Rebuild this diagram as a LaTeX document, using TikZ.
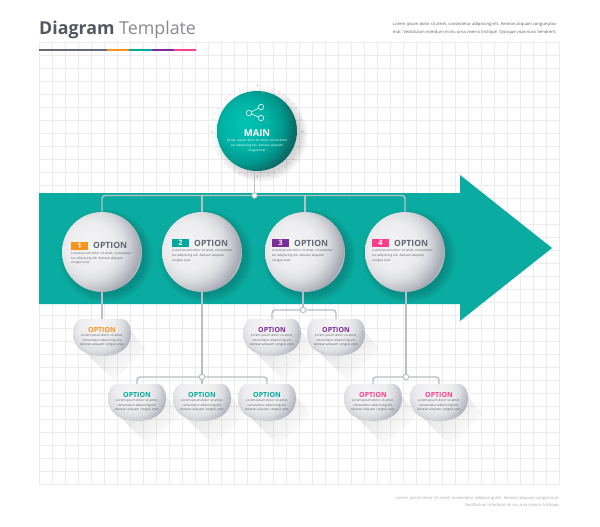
\documentclass[tikz,border=0pt]{standalone}
\usepackage{fontspec}
\setmainfont{Open Sans}
\usetikzlibrary{fadings}

\definecolor{optorange}{HTML}{F7941E}
\definecolor{optteal}{HTML}{00A99D}
\definecolor{optpurple}{HTML}{7B2D9B}
\definecolor{optpink}{HTML}{FF3D8B}
\definecolor{titlegray}{HTML}{55575F}
\definecolor{optiongray}{HTML}{656773}
\definecolor{bargray}{HTML}{666A78}
\definecolor{linegray}{HTML}{B9BFC5}
\definecolor{gridgray}{HTML}{ECECEF}
\definecolor{textgray}{HTML}{5A5B64}
\definecolor{ballA}{HTML}{F5F5F6}
\definecolor{ballB}{HTML}{EDEDEF}
\definecolor{ballC}{HTML}{DCDDE1}
\definecolor{ballD}{HTML}{C0C2C9}
\definecolor{ballE}{HTML}{A4A7B1}
\definecolor{ballF}{HTML}{DADBDF}
\definecolor{mainA}{HTML}{00C4B4}
\definecolor{mainB}{HTML}{00B3A5}
\definecolor{mainC}{HTML}{00968C}
\definecolor{mainD}{HTML}{0B6B66}
\definecolor{mainE}{HTML}{1AA398}

\pgfdeclareradialshading{whiteball}{\pgfpointorigin}{
    color(0bp)=(ballA); color(11bp)=(ballB); color(16bp)=(ballC);
    color(20bp)=(ballD); color(23.5bp)=(ballE); color(25bp)=(ballF); color(50bp)=(ballF)}
\pgfdeclareradialshading{tealball}{\pgfpointorigin}{
    color(0bp)=(mainA); color(11bp)=(mainB); color(18bp)=(mainC);
    color(23bp)=(mainD); color(24.2bp)=(mainD); color(25bp)=(mainE); color(50bp)=(mainE)}

\tikzfading[name=longfade, left color=transparent!72, middle color=transparent!92, right color=transparent!100]

\tikzset{
    ballnode/.style={circle, minimum size=80pt, inner sep=0pt, path picture={
        \shade[shading=#1] ([xshift=-12pt,yshift=6pt]path picture bounding box.center) circle (54pt);}},
    joint/.style={circle, draw=linegray, line width=1pt, fill=white, minimum size=5.5pt, inner sep=0pt},
    link/.style={draw=linegray, line width=1.4pt, rounded corners=3pt},
    lorem/.style={font=\fontsize{3.2}{4.9}\selectfont, text=textgray, inner sep=0pt},
    pill/.pic={
        \fill[gray, path fading=longfade, fading angle=-45] (-25,6) -- (12,43) -- (44,11) -- (20,-17) -- cycle;
        \begin{scope}
            \clip (-21,-19) -- (21,-19) .. controls (26,-18) and (29,-12) .. (29,-5)
                .. controls (29,10) and (17,18) .. (0,18) .. controls (-17,18) and (-29,10) .. (-29,-5)
                .. controls (-29,-12) and (-26,-18) .. (-21,-19) -- cycle;
            \shade[shading=whiteball] (-5,-12) circle (40pt);
        \end{scope}
        \coordinate (-top) at (0,-19);
    }
}

\begin{document}
\begin{tikzpicture}[x=1pt, y=-1pt]
    \useasboundingbox (0,0) rectangle (600,527);

    % Grid
    \draw[gridgray, line width=0.45pt, xstep=13pt, ystep=13pt, shift={(39pt,-42pt)}] (0,0) grid (520,442);

    % Title and color bar
    \node[anchor=west, inner sep=0pt, text=titlegray, font=\fontsize{17.8}{17.8}\selectfont] (title) at (39,29.5)
        {\textbf{Diagram} \textcolor{titlegray!70}{Template}};
    \foreach \xa/\xb/\col in {39/107/bargray, 107/129/optorange, 129/152/optteal, 152/174/optpurple, 174/196/optpink} {
        \fill[\col] (\xa,49) rectangle (\xb,51);
    }
    \node[lorem, anchor=north west, align=left, font=\fontsize{4.12}{8}\selectfont] (headtext) at (393,22)
        {Lorem ipsum dolor sit amet, consectetur adipiscing elit. Aenean aliquam congue plac-\\
         erat. Vestibulum interdum mi eu urna viverra tristique. Quisque vitae nunc hendrerit.};

    % Big arrow
    \fill[optteal, fill opacity=0.96] (39,193) -- (460,193) -- (460,175) -- (552,248)
        -- (460,321) -- (460,304) -- (39,304) -- cycle;

    % Ticks around main
    \foreach \a in {0,7.5,...,352} {
        \draw[gray!40, line width=0.3pt] (257,131) ++(\a:44) -- ++(\a:2.5);
    }

    % Shadows under the balls
    \foreach \x/\y in {257/131, 102/252, 202/252, 305/252, 405/252} {
        \foreach \s in {1,...,9} {
            \fill[black, opacity=0.02] (\x+4,\y+4) circle ({37+\s*1.1});
        }
    }

    % Main
    \node[ballnode=tealball] (main) at (257,131) {};
    \draw[white, line width=0.6pt] (249,113) -- (261,107) (249,113) -- (261,118);
    \foreach \n/\x/\y in {icona/249/113, iconb/261/107, iconc/261/118} {
        \node[circle, draw=white, line width=0.6pt, fill=mainB, minimum size=5.4pt, inner sep=0pt] (\n) at (\x,\y) {};
    }
    \node[inner sep=0pt, text=white, font=\bfseries\fontsize{9.5}{9.5}\selectfont] (maintitle) at (257,133) {MAIN};
    \node[lorem, text=white, align=center, anchor=north] (maintext) at (257,139)
        {Lorem ipsum dolor sit amet, consectetur\\ tur adipiscing elit. Aenean aliquam\\ congue erat.};

    % Option balls
    \foreach \n/\x/\tx/\ty/\col/\num in {a/102/71/245.5/optorange/1, b/202/172/243/optteal/2,
                                         c/305/272/243/optpurple/3, d/405/372/243/optpink/4} {
        \node[ballnode=whiteball] (opt\n) at (\x,252) {};
        \node[fill=\col, text=white, minimum width=17pt, minimum height=8pt, inner sep=0pt,
              font=\bfseries\fontsize{7.5}{7.5}\selectfont] (badge\n) at (\tx+8.5,\ty) {\num};
        \node[anchor=west, inner sep=0pt, text=optiongray, font=\bfseries\fontsize{8.6}{8.6}\selectfont] (opttitle\n) at (\tx+22,\ty) {OPTION};
        \node[lorem, anchor=north west, align=left] (opttext\n) at (\tx,\ty+6)
            {Lorem ipsum dolor sit amet, consectetur\\ tur adipiscing elit. Aenean aliquam\\ congue erat.};
    }

    % Pills
    \foreach \n/\x/\y/\col in {a/102/338/optorange, b/137/403/optteal, c/202/403/optteal, d/267/403/optteal,
                               e/272/338/optpurple, f/336/338/optpurple, g/373/403/optpink, h/439/403/optpink} {
        \pic (pill\n) at (\x,\y) {pill};
        \node[inner sep=0pt, text=\col, font=\bfseries\fontsize{7}{7}\selectfont] (pilltitle\n) at (\x,\y-8.5) {OPTION};
        \node[lorem, align=center, anchor=north] (pilltext\n) at (\x,\y-4.5)
            {Lorem ipsum dolor sit amet,\\ consectetur adipiscing elit,\\ Aenean aliquam congue erat.};
    }

    % Joints
    \node[joint] (jtop) at (254.5,195.5) {};
    \node[joint] (jb) at (202,377) {};
    \node[joint] (jc) at (303,310) {};
    \node[joint] (jd) at (406,377) {};

    % Connectors
    \draw[link] (jtop |- main.south) -- (jtop);
    \draw[link] (opta.north) |- (jtop);
    \draw[link] (optd.north) |- (jtop);
    \draw[link] (optb.north) -- (optb.north |- jtop);
    \draw[link] (optc.north) -- (optc.north |- jtop);
    \draw[link] (opta.south) -- (pilla-top);
    \draw[link] (optb.south) -- (jb);
    \draw[link] (jb) -| (pillb-top);
    \draw[link] (jb) -- (pillc-top);
    \draw[link] (jb) -| (pilld-top);
    \draw[link] (jc |- optc.south) -- (jc);
    \draw[link] (jc) -| (pille-top);
    \draw[link] (jc) -| (pillf-top);
    \draw[link] (jd |- optd.south) -- (jd);
    \draw[link] (jd) -| (pillg-top);
    \draw[link] (jd) -| (pillh-top);

    % Foot text
    \node[lorem, anchor=north east, align=right, text=gray!70, font=\fontsize{4.12}{7.6}\selectfont] (foottext) at (560,496)
        {Lorem ipsum dolor sit amet, consectetur adipiscing elit. Aenean aliquam congue erat.\\
         Vestibulum interdum mi eu urna viverra tristique.};
\end{tikzpicture}
\end{document}
